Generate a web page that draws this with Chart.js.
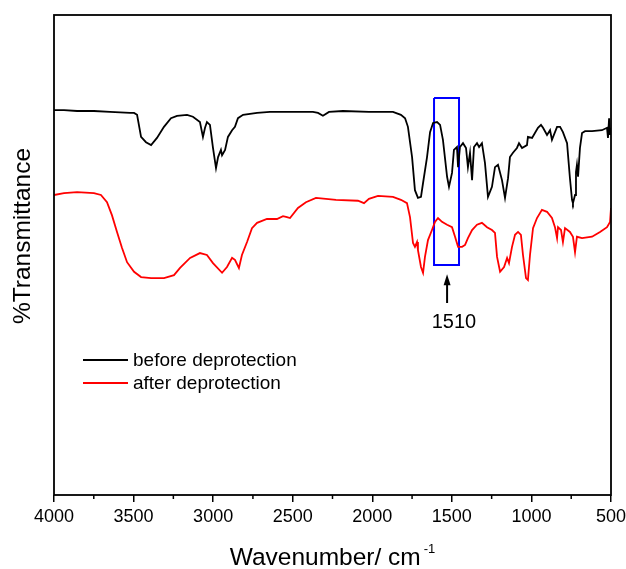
<!DOCTYPE html>
<html>
<head>
<meta charset="utf-8">
<script src="https://cdn.jsdelivr.net/npm/chart.js@4.4.1/dist/chart.umd.min.js"></script>
<style>
  html, body { margin: 0; padding: 0; background: #fff; }
  canvas { display: block; }
</style>
</head>
<body>
<canvas id="ir-chart" width="626" height="569"></canvas>
<script>
// FTIR spectra - before / after deprotection

// Spectrum (wavenumber in cm-1, arbitrary %T)
const beforeWn = [4000, 3937, 3855, 3749, 3648, 3522, 3497, 3478, 3453, 3422, 3390, 3353, 3309, 3265, 3227, 3164, 3127, 3083, 3064, 3051, 3039, 3020, 3001, 2982, 2969, 2951, 2944, 2925, 2907, 2881, 2863, 2844, 2812, 2724, 2643, 2517, 2373, 2341, 2310, 2272, 2184, 2021, 1870, 1820, 1794, 1776, 1750, 1732, 1713, 1694, 1681, 1656, 1637, 1618, 1593, 1574, 1556, 1530, 1518, 1499, 1487, 1468, 1461, 1449, 1430, 1411, 1399, 1386, 1373, 1361, 1342, 1329, 1311, 1292, 1273, 1248, 1229, 1210, 1185, 1166, 1147, 1135, 1116, 1091, 1078, 1059, 1028, 1022, 996, 978, 959, 940, 927, 902, 883, 871, 839, 820, 802, 776, 770, 758, 745, 739, 726, 720, 714, 707, 695, 682, 663, 619, 557, 525, 519, 512, 506, 500];
const beforeT = [80.2, 80.2, 80.0, 80.0, 79.8, 79.6, 79.6, 79.2, 74.6, 73.5, 72.9, 74.4, 76.7, 78.5, 79.0, 79.2, 78.8, 77.7, 74.6, 76.5, 77.7, 77.1, 72.3, 68.1, 70.4, 71.9, 70.8, 71.9, 74.6, 76.0, 76.7, 78.5, 79.2, 79.6, 79.8, 79.8, 79.8, 79.6, 79.0, 79.8, 80.0, 79.8, 79.8, 79.2, 78.5, 76.7, 70.4, 63.5, 61.9, 62.1, 65.0, 70.4, 75.6, 77.5, 77.7, 77.1, 74.0, 66.3, 64.2, 67.1, 71.9, 72.5, 68.3, 72.5, 73.3, 72.3, 68.3, 71.3, 65.6, 72.5, 73.3, 72.5, 73.3, 69.2, 62.1, 64.2, 68.3, 68.8, 65.6, 61.9, 66.0, 70.4, 71.3, 72.3, 73.3, 72.3, 72.9, 74.6, 74.4, 75.4, 76.5, 77.1, 76.5, 75.0, 76.0, 74.0, 76.7, 76.7, 75.6, 73.3, 70.8, 66.0, 61.5, 60.8, 62.5, 67.3, 68.8, 66.3, 72.3, 75.4, 75.8, 75.8, 76.0, 76.5, 74.4, 78.5, 75.0, 76.5];

const afterWn = [4000, 3937, 3855, 3749, 3705, 3667, 3636, 3604, 3573, 3541, 3497, 3453, 3390, 3309, 3246, 3208, 3145, 3083, 3039, 3001, 2944, 2913, 2881, 2863, 2838, 2819, 2787, 2756, 2724, 2662, 2599, 2561, 2536, 2517, 2467, 2417, 2354, 2228, 2090, 2052, 2021, 1964, 1870, 1820, 1782, 1763, 1744, 1732, 1719, 1713, 1694, 1681, 1669, 1650, 1625, 1606, 1587, 1562, 1530, 1499, 1480, 1461, 1436, 1417, 1399, 1373, 1342, 1311, 1279, 1248, 1229, 1216, 1197, 1172, 1153, 1141, 1122, 1103, 1084, 1066, 1053, 1034, 1022, 1009, 990, 965, 934, 902, 871, 852, 839, 833, 814, 802, 789, 758, 739, 726, 714, 682, 619, 569, 525, 506, 500];
const afterT = [62.5, 62.9, 63.1, 62.9, 62.5, 61.0, 58.3, 54.8, 51.5, 48.5, 46.5, 45.4, 45.2, 45.2, 45.8, 47.3, 49.4, 50.4, 50.0, 48.3, 46.3, 47.5, 49.4, 49.0, 47.3, 50.0, 52.7, 55.6, 56.7, 57.5, 57.5, 58.1, 57.9, 57.7, 59.8, 61.0, 61.9, 61.5, 61.3, 60.8, 61.7, 62.3, 62.1, 61.5, 60.8, 57.9, 52.5, 51.7, 52.7, 51.0, 47.5, 46.3, 49.6, 53.1, 55.2, 56.9, 57.7, 56.9, 56.3, 55.8, 53.8, 51.7, 51.7, 52.1, 53.5, 55.2, 56.3, 56.7, 55.8, 55.2, 54.6, 49.6, 46.5, 47.5, 49.4, 48.3, 51.7, 54.2, 54.8, 54.2, 50.0, 45.2, 44.8, 50.0, 55.6, 57.7, 59.4, 59.0, 57.7, 55.8, 53.5, 55.8, 55.2, 52.7, 55.6, 54.8, 53.8, 50.6, 53.8, 53.5, 53.8, 54.8, 55.8, 56.9, 59.8];

// Highlight box around the 1510 band
const boxWn = [1612, 1455, 1455, 1612, 1612];
const boxT = [82.7, 82.7, 47.9, 47.9, 82.7];

// Arrow + label under the box
const arrowWn = 1530;
const arrowFromT = 40.0;
const arrowToT = 46.0;
const bandLabel = '1510';
const bandLabelWn = 1487;
const bandLabelT = 34.8;

// Axis ticks
const majorTicks = [4000, 3500, 3000, 2500, 2000, 1500, 1000, 500];
const minorTicks = [3750, 3250, 2750, 2250, 1750, 1250, 750];

const seriesLabels = ['before deprotection', 'after deprotection'];
const seriesColors = ['#000000', '#ff0000'];

const FONT = "'Liberation Sans', Arial, sans-serif";

function toPoints(xs, ys) {
    return xs.map((v, i) => ({ x: v, y: ys[i] }));
}

// Frame, minor ticks, arrow, legend and axis titles
const decorPlugin = {
    id: 'decor',
    afterDraw(chart) {
        const { ctx, chartArea: a, scales: { x, y } } = chart;
        ctx.save();

        // box frame
        ctx.strokeStyle = '#000';
        ctx.lineWidth = 1.8;
        ctx.strokeRect(a.left, a.top, a.right - a.left, a.bottom - a.top);

        // minor ticks
        ctx.lineWidth = 1.5;
        minorTicks.forEach(v => {
            const px = x.getPixelForValue(v);
            ctx.beginPath();
            ctx.moveTo(px, a.bottom);
            ctx.lineTo(px, a.bottom + 4);
            ctx.stroke();
        });

        // arrow
        const ax = x.getPixelForValue(arrowWn);
        const ay0 = y.getPixelForValue(arrowFromT);
        const ay1 = y.getPixelForValue(arrowToT);
        ctx.lineWidth = 2;
        ctx.beginPath();
        ctx.moveTo(ax, ay0);
        ctx.lineTo(ax, ay1 + 8);
        ctx.stroke();
        ctx.fillStyle = '#000';
        ctx.beginPath();
        ctx.moveTo(ax, ay1);
        ctx.lineTo(ax - 3.5, ay1 + 11);
        ctx.lineTo(ax + 3.5, ay1 + 11);
        ctx.closePath();
        ctx.fill();

        ctx.font = `20px ${FONT}`;
        ctx.textAlign = 'center';
        ctx.textBaseline = 'alphabetic';
        ctx.fillText(bandLabel, x.getPixelForValue(bandLabelWn), y.getPixelForValue(bandLabelT));

        // legend
        ctx.font = `19px ${FONT}`;
        ctx.textAlign = 'left';
        ctx.textBaseline = 'middle';
        chart.data.datasets.slice(0, 2).forEach((ds, i) => {
            const ly = a.top + 345 + i * 23;
            ctx.strokeStyle = ds.borderColor;
            ctx.lineWidth = 1.8;
            ctx.beginPath();
            ctx.moveTo(a.left + 29, ly);
            ctx.lineTo(a.left + 74, ly);
            ctx.stroke();
            ctx.fillStyle = '#000';
            ctx.fillText(ds.label, a.left + 79, ly + 1);
        });

        // x title with superscript
        const main = 'Wavenumber/ cm';
        const sup = '-1';
        ctx.font = `24.5px ${FONT}`;
        const wMain = ctx.measureText(main).width;
        ctx.font = `13px ${FONT}`;
        const wSup = ctx.measureText(sup).width;
        const cx = (a.left + a.right) / 2;
        const startX = cx - (wMain + 3 + wSup) / 2;
        ctx.textBaseline = 'alphabetic';
        ctx.font = `24.5px ${FONT}`;
        ctx.fillText(main, startX, a.bottom + 70);
        ctx.font = `13px ${FONT}`;
        ctx.fillText(sup, startX + wMain + 3, a.bottom + 58);

        // y title
        ctx.font = `24.5px ${FONT}`;
        ctx.textAlign = 'center';
        ctx.textBaseline = 'middle';
        ctx.translate(23, a.top + 221);
        ctx.rotate(-Math.PI / 2);
        ctx.fillText('%Transmittance', 0, 0);

        ctx.restore();
    }
};

const ctx = document.getElementById('ir-chart').getContext('2d');

new Chart(ctx, {
    type: 'line',
    data: {
        datasets: [
            {
                label: seriesLabels[0],
                data: toPoints(beforeWn, beforeT),
                borderColor: seriesColors[0],
                borderWidth: 1.8,
                pointRadius: 0,
                tension: 0
            },
            {
                label: seriesLabels[1],
                data: toPoints(afterWn, afterT),
                borderColor: seriesColors[1],
                borderWidth: 1.8,
                pointRadius: 0,
                tension: 0
            },
            {
                label: 'box',
                data: toPoints(boxWn, boxT),
                borderColor: '#0000ff',
                borderWidth: 2,
                pointRadius: 0,
                tension: 0
            }
        ]
    },
    options: {
        responsive: false,
        animation: false,
        layout: {
            padding: { top: 15, right: 15, left: 0, bottom: 0 }
        },
        plugins: {
            legend: { display: false },
            tooltip: { enabled: false }
        },
        scales: {
            x: {
                type: 'linear',
                reverse: true,
                min: 500,
                max: 4000,
                afterBuildTicks: scale => {
                    scale.ticks = majorTicks.map(v => ({ value: v }));
                },
                afterFit: scale => {
                    scale.height = 74;
                    scale.paddingLeft = 0;
                    scale.paddingRight = 0;
                },
                grid: {
                    display: true,
                    drawOnChartArea: false,
                    drawTicks: true,
                    tickLength: 7,
                    color: '#000',
                    lineWidth: 1.5
                },
                border: { display: false },
                ticks: {
                    color: '#000',
                    padding: 4,
                    maxRotation: 0,
                    font: { family: FONT, size: 18 },
                    callback: value => String(value)
                }
            },
            y: {
                min: 0,
                max: 100,
                afterFit: scale => { scale.width = 54; },
                grid: { display: false },
                border: { display: false },
                ticks: { display: false }
            }
        }
    },
    plugins: [decorPlugin]
});
</script>
</body>
</html>
